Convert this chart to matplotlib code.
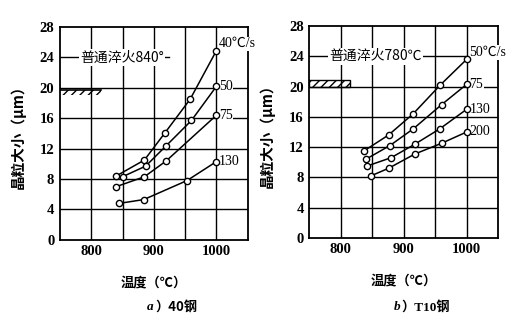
import matplotlib.pyplot as plt
from matplotlib.patches import Rectangle

plt.rcParams['font.family'] = ['Liberation Serif', 'Noto Sans CJK SC', 'DejaVu Sans']

# a) 40 steel, grain size (um) vs temperature (C), per heating rate
a_rates = ['40℃/s', '50', '75', '130']
a_temp = [[840, 885, 918, 958, 1000],
          [850, 887, 920, 960, 1000],
          [840, 885, 920, 1000],
          [845, 884, 953, 1000]]
a_size = [[8.4, 10.5, 14.1, 18.5, 24.9],
          [8.3, 9.7, 12.4, 15.7, 20.2],
          [7.0, 8.3, 10.4, 16.4],
          [4.8, 5.3, 7.8, 10.3]]
a_normal = 19.7          # normal quench 840
a_note = '普通淬火840°'

# b) T10 steel
b_rates = ['50℃/s', '75', '130', '200']
b_temp = [[837, 876, 915, 958, 1000],
          [840, 878, 915, 960, 1000],
          [842, 880, 918, 957, 1000],
          [848, 876, 918, 960, 1000]]
b_size = [[11.5, 13.6, 16.4, 20.2, 23.6],
          [10.4, 12.2, 14.4, 17.6, 20.3],
          [9.5, 10.6, 12.4, 14.4, 17.0],
          [8.2, 9.2, 11.1, 12.5, 14.0]]
b_normal = 20.4          # normal quench 780
b_note = '普通淬火780℃'
b_title = 'T10钢'

xticks = [800, 900, 1000]
yticks = list(range(0, 29, 4))


def panel(ax, temps, sizes, rates, note, note_end, normal, boxed):
    ax.set_xlim(750, 1050)
    ax.set_ylim(0, 28)
    # grid, the 24 line is drawn as the annotation leader
    for x in [800, 850, 900, 950, 1000]:
        ax.axvline(x, color='black', lw=1.0, zorder=1)
    for y in yticks[1:-1]:
        if y != 24:
            ax.axhline(y, color='black', lw=1.0, zorder=1)
    ax.plot([750, note_end], [24, 24], color='black', lw=1.0, zorder=1)
    ax.text(782, 24, note, fontsize=10, va='center', ha='left',
            family=['Noto Sans CJK SC', 'DejaVu Sans'],
            bbox=dict(facecolor='white', edgecolor='none', pad=1), zorder=3)

    for t, s, lab in zip(temps, sizes, rates):
        ax.plot(t, s, color='black', lw=1.1, marker='o', ms=4.5,
                mfc='white', mec='black', mew=1.0, zorder=4, clip_on=False)
        ax.text(t[-1] + 4, s[-1] + (0.9 if '/' in lab else 0), lab,
                fontsize=10, va='center', ha='left',
                family=['Liberation Serif', 'Noto Sans CJK SC'],
                bbox=dict(facecolor='white', edgecolor='none', pad=0.5),
                zorder=3, clip_on=False)

    # normal quench grain size marker
    if boxed:
        ax.add_patch(Rectangle((750, normal - 0.4), 65, 0.8, fill=False,
                               hatch='////', lw=1.0, zorder=2))
    else:
        ax.plot([750, 815], [normal, normal], color='black', lw=1.2, zorder=2)
        ax.add_patch(Rectangle((750, normal - 0.7), 65, 0.7, fill=False,
                               hatch='////', lw=0, zorder=2))

    ax.set_xticks(xticks)
    ax.set_yticks(yticks)
    ax.tick_params(length=0, labelsize=10.5, pad=4)
    for lab in ax.get_xticklabels() + ax.get_yticklabels():
        lab.set_fontweight('bold')
    for sp in ax.spines.values():
        sp.set_linewidth(1.3)
    ax.set_ylabel('晶粒大小（μm）', fontsize=10.5, fontweight='bold',
                  family=['Noto Sans CJK SC', 'DejaVu Sans'], labelpad=10)
    ax.set_xlabel('温度（℃）', fontsize=9.5, fontweight='bold',
                  family=['Noto Sans CJK SC', 'DejaVu Sans'], labelpad=12)


fig = plt.figure(figsize=(5.25, 3.25), dpi=100)
ax1 = fig.add_axes([0.114, 0.262, 0.358, 0.655])
ax2 = fig.add_axes([0.589, 0.268, 0.360, 0.652])

panel(ax1, a_temp, a_size, a_rates, a_note, 925, a_normal, False)
panel(ax2, b_temp, b_size, b_rates, b_note, 1000, b_normal, True)

fig.text(0.293, 0.055, 'a', fontsize=9.5, fontstyle='italic',
         fontweight='bold', ha='right', va='center')
fig.text(0.296, 0.055, '）40钢', fontsize=9.5, fontweight='bold', ha='left',
         va='center', family=['Noto Sans CJK SC', 'DejaVu Sans'])
fig.text(0.762, 0.055, 'b', fontsize=9.5, fontstyle='italic',
         fontweight='bold', ha='right', va='center')
fig.text(0.765, 0.055, '）' + b_title, fontsize=9.5, fontweight='bold',
         ha='left', va='center', family=['Liberation Serif', 'Noto Sans CJK SC'])

fig.savefig('out.png', dpi=100)
